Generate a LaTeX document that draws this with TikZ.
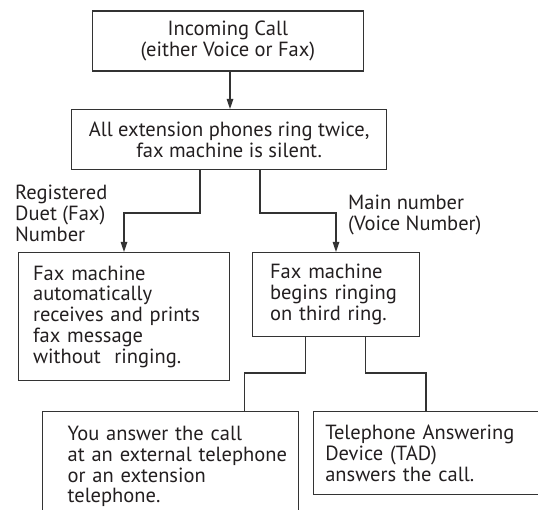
\documentclass[tikz,border=0pt]{standalone}
\usepackage{fontspec}
\setmainfont{PT Sans}
\usetikzlibrary{arrows.meta}
\definecolor{ln}{HTML}{333333}
\definecolor{txt}{HTML}{231F20}
\begin{document}
\begin{tikzpicture}[x=1pt,y=-1pt,
  base/.style={font=\fontsize{20.5}{20.8}\selectfont, text=txt},
  box/.style={base, draw=ln, line width=1.2pt, rectangle, inner ysep=0pt, anchor=north west},
  cbox/.style={box, inner xsep=0pt, align=center},
  lbox/.style={box, align=left},
  lbl/.style={base, align=left, inner sep=0pt, anchor=north west},
  wire/.style={draw=ln, line width=1.2pt},
  arr/.style={wire, -{Triangle[length=10pt,width=6.5pt]}}]
\useasboundingbox (0,0) rectangle (538,510);
\fill[white] (0,0) rectangle (538,510);

\node[cbox, minimum width=271.5pt, minimum height=60pt] (b1) at (91.5,10.5)
  {Incoming Call\\(either Voice or Fax)};
\node[cbox, minimum width=315pt, minimum height=60pt] (b2) at (71,109)
  {All extension phones ring twice,\\fax machine is silent.};
\node[lbox, inner xsep=15pt, text width=181.5pt, minimum height=128pt] (b3) at (17.5,252)
  {Fax machine\\automatically\\receives and prints\\fax message\\without\ \ ringing.};
\node[lbox, inner xsep=17.5pt, text width=131.5pt, minimum height=84pt] (b4) at (252,252)
  {\mbox{Fax machine}\\\mbox{begins ringing}\\\mbox{on third ring.}};
\node[lbox, inner xsep=25pt, text width=206pt, minimum height=110pt] (b5) at (42,411)
  {You answer the call\\\mbox{at an external telephone}\\or an extension\\telephone.};
\node[lbox, inner xsep=12pt, text width=216pt, minimum height=83pt] (b6) at (312.7,411)
  {Telephone Answering\\Device (TAD)\\answers the call.};

\node[lbl] (l1) at (15,185) {Registered\\Duet (Fax)\\Number};
\node[lbl] (l2) at (348,195) {Main number\\(Voice Number)};

\coordinate (a1) at (230,0);
\draw[arr] (b1.south -| a1) -- (b2.north -| a1);

\coordinate (p1) at (200,213);
\coordinate (p2) at (124,213);
\coordinate (q1) at (260,213);
\coordinate (q2) at (336,213);
\draw[arr] (b2.south -| p1) -- (p1) -- (p2) -- (b3.north -| p2);
\draw[arr] (b2.south -| q1) -- (q1) -- (q2) -- (b4.north -| q2);

\coordinate (r1) at (305.3,373);
\coordinate (r2) at (244.7,373);
\coordinate (s1) at (365.7,373);
\coordinate (s2) at (426,373);
\draw[wire] (b4.south -| r1) -- (r1) -- (r2) -- (b5.north -| r2);
\draw[wire] (b4.south -| s1) -- (s1) -- (s2) -- (b6.north -| s2);
\end{tikzpicture}
\end{document}
